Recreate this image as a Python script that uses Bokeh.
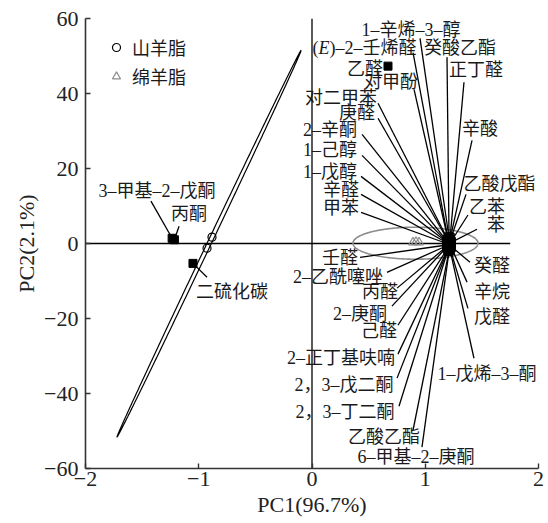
import numpy as np
from bokeh.plotting import figure
from bokeh.models import ColumnDataSource, FixedTicker, Legend, LegendItem
from bokeh.core.properties import value
from bokeh.embed import file_html
from bokeh.resources import INLINE

# ---------------- data ----------------
x_ticks = [-2, -1, 0, 1, 2]
x_tick_labels = ["\u22122", "\u22121", "0", "1", "2"]
y_ticks = [-60, -40, -20, 0, 20, 40, 60]
y_tick_labels = ["\u221260", "\u221240", "\u221220", "0", "20", "40", "60"]

goat_pc1 = [-0.883, -0.927]
goat_pc2 = [1.7, -1.25]
sheep_pc1 = [0.892, 0.918, 0.945]
sheep_pc2 = [0.3, 0.4, 0.3]

# confidence ellipses: centre, semi-axis vectors (data units)
goat_ell_center = [-0.909, -0.05]
goat_ell_major = [0.8125, 51.55]
goat_ell_minor = [0.016, -0.23]
sheep_ell_center = [0.914, 0.08]
sheep_ell_major = [0.552, 0.0]
sheep_ell_minor = [0.0, 4.27]

compounds = [
    "1–辛烯–3–醇", "(E)–2–壬烯醛", "癸酸乙酯", "正丁醛", "乙醛", "对甲酚", "对二甲苯",
    "庚醛", "2–辛酮", "1–己醇", "1–戊醇", "辛醛", "甲苯", "辛酸", "乙酸戊酯", "乙苯", "苯",
    "癸醛", "辛烷", "戊醛", "1–戊烯–3–酮", "壬醛", "2–乙酰噻唑", "丙醛", "2–庚酮", "己醛",
    "2–正丁基呋喃", "2，3–戊二酮", "2，3–丁二酮", "乙酸乙酯", "6–甲基–2–庚酮",
    "3–甲基–2–戊酮", "丙酮", "二硫化碳",
]
load_pc1 = [
    1.21, 1.20, 1.21, 1.22, 0.671, 1.20, 1.20,
    1.20, 1.19, 1.19, 1.19, 1.19, 1.19, 1.22, 1.22, 1.23, 1.23,
    1.23, 1.23, 1.22, 1.22, 1.19, 1.19, 1.19, 1.19, 1.20,
    1.20, 1.20, 1.20, 1.21, 1.21,
    -1.235, -1.215, -1.051,
]
load_pc2 = [
    1.6, 1.4, 1.8, 1.7, 47.3, 1.2, 1.0,
    0.8, 0.7, 0.5, 0.4, 0.2, 0.0, 1.3, 0.8, 0.6, 0.3,
    -0.8, -1.1, -1.4, -1.8, -0.4, -0.6, -0.8, -1.0, -1.2,
    -1.4, -1.6, -1.8, -2.0, -2.1,
    1.4, 1.0, -5.3,
]
label_x = [
    0.874, 0.005, 1.307, 1.448, 0.468, 0.698, 0.256,
    0.397, 0.159, 0.159, 0.159, 0.256, 0.256, 1.483, 1.655, 1.545, 1.625,
    1.589, 1.589, 1.589, 1.545, 0.247, 0.230, 0.600, 0.424, 0.592,
    0.256, 0.283, 0.291, 0.636, 0.918,
    -1.369, -1.086, -0.706,
]
label_y = [
    56.9, 52.1, 52.1, 46.2, 46.5, 43.0, 38.7,
    34.7, 30.2, 24.9, 19.0, 14.2, 9.4, 30.5, 15.8, 9.7, 4.9,
    -6.0, -12.9, -19.5, -34.9, -3.9, -9.0, -13.0, -18.9, -23.4,
    -30.6, -37.8, -45.0, -51.6, -57.0,
    13.9, 7.8, -13.0,
]
lead_x = [
    0.954, 0.892, 1.192, 1.342, np.nan, 0.901, 0.583,
    0.583, 0.442, 0.442, 0.433, 0.433, 0.433, 1.413, 1.360, 1.377, 1.457,
    1.395, 1.369, 1.377, 1.430, 0.424, 0.662, 0.751, 0.706, 0.759,
    0.759, 0.751, 0.768, 0.892, 0.971,
    -1.422, -1.174, -0.927,
]
lead_y = [
    54.7, 50.9, 49.7, 43.0, np.nan, 41.1, 37.4,
    33.4, 29.1, 23.5, 17.9, 13.1, 8.3, 27.5, 13.1, 7.6, 3.8,
    -5.0, -10.3, -17.3, -30.6, -3.7, -7.7, -11.9, -16.7, -21.8,
    -29.5, -35.9, -43.4, -49.8, -54.3,
    11.3, 4.6, -9.0,
]

# ---------------- figure ----------------
p = figure(width=548, height=523, x_range=(-2, 2), y_range=(-60, 60),
           output_backend="svg", toolbar_location=None,
           min_border_left=85, min_border_right=10, min_border_top=18, min_border_bottom=55)
p.outline_line_color = None
p.xgrid.visible = False
p.ygrid.visible = False
p.background_fill_color = "white"

SERIF = "Liberation Serif"
MIXED = value("Liberation Serif, Noto Sans CJK SC")
LFS = "18px"

for ax, ticks, labs in ((p.xaxis[0], x_ticks, x_tick_labels), (p.yaxis[0], y_ticks, y_tick_labels)):
    ax.ticker = FixedTicker(ticks=ticks)
    ax.major_label_overrides = {t: l for t, l in zip(ticks, labs)}
    ax.minor_tick_line_color = None
    ax.major_tick_in = 5
    ax.major_tick_out = 0
    ax.axis_line_width = 1.6
    ax.axis_line_color = "#333333"
    ax.major_tick_line_color = "#333333"
    ax.major_tick_line_width = 1.4
    ax.major_label_text_font = SERIF
    ax.major_label_text_font_size = "22px"
    ax.major_label_text_color = "#222222"
    ax.axis_label_text_font = SERIF
    ax.axis_label_text_font_size = "22px"
    ax.axis_label_text_font_style = "normal"
    ax.axis_label_text_color = "#222222"

p.xaxis.axis_label = "PC1(96.7%)"
p.yaxis.axis_label = "PC2(2.1%)"
p.xaxis.major_label_standoff = 3
p.xaxis.axis_label_standoff = 3
p.yaxis.major_label_standoff = 7
p.yaxis.axis_label_standoff = 2

# zero reference lines
p.segment(x0=[-2, 0], y0=[0, -60], x1=[1.75, 0], y1=[0, 60], line_color="black", line_width=1.3)

# ellipses
t = np.linspace(0, 2 * np.pi, 400)
def ell(c, a, b):
    return (c[0] + a[0] * np.cos(t) + b[0] * np.sin(t),
            c[1] + a[1] * np.cos(t) + b[1] * np.sin(t))
gx, gy = ell(goat_ell_center, goat_ell_major, goat_ell_minor)
p.line(gx, gy, line_color="black", line_width=1.2)
sx, sy = ell(sheep_ell_center, sheep_ell_major, sheep_ell_minor)
p.line(sx, sy, line_color="#8c8c8c", line_width=1.6)

# leader lines
lx = np.array(lead_x); ly = np.array(lead_y)
m = ~np.isnan(lx)
p.segment(x0=lx[m], y0=ly[m], x1=np.array(load_pc1)[m], y1=np.array(load_pc2)[m],
          line_color="black", line_width=1.3)

# loadings
p.scatter(load_pc1, load_pc2, marker="square", size=8, fill_color="black", line_color="black")

# samples
r_goat = p.scatter(goat_pc1, goat_pc2, marker="circle", size=8, fill_color=None,
                   line_color="black", line_width=1.2)
r_sheep = p.scatter(sheep_pc1, sheep_pc2, marker="triangle", size=9, fill_color=None,
                    line_color="#8c8c8c", line_width=1.2)

# labels
normal_idx = [i for i, c in enumerate(compounds) if not c.startswith("(E)")]
src = ColumnDataSource(dict(x=[label_x[i] for i in normal_idx],
                            y=[label_y[i] for i in normal_idx],
                            t=[compounds[i] for i in normal_idx]))
p.text(x="x", y="y", text="t", source=src, text_font=MIXED, text_font_size=LFS,
       text_align="center", text_baseline="middle", text_color="#1a1a1a")

ei = compounds.index("(E)–2–壬烯醛")
ex, ey = [label_x[ei]], [label_y[ei]]
p.text(x=ex, y=ey, text=["("], text_font=MIXED, text_font_size=LFS,
       text_align="left", text_baseline="middle", text_color="#1a1a1a")
p.text(x=ex, y=ey, text=["E"], x_offset=6.0, text_font=MIXED, text_font_size=LFS,
       text_font_style="italic", text_align="left", text_baseline="middle", text_color="#1a1a1a")
p.text(x=ex, y=ey, text=[")–2–壬烯醛"], x_offset=17.0, text_font=MIXED, text_font_size=LFS,
       text_align="left", text_baseline="middle", text_color="#1a1a1a")

legend = Legend(items=[LegendItem(label="山羊脂", renderers=[r_goat]),
                       LegendItem(label="绵羊脂", renderers=[r_sheep])],
                location="top_left", margin=16, padding=12, spacing=3,
                glyph_width=30, glyph_height=20, label_height=20, label_standoff=1,
                border_line_color=None, background_fill_alpha=0,
                label_text_font="Noto Sans CJK SC", label_text_font_size=LFS,
                label_text_color="#1a1a1a")
p.add_layout(legend)

open("out.html", "w").write(file_html(p, INLINE))
